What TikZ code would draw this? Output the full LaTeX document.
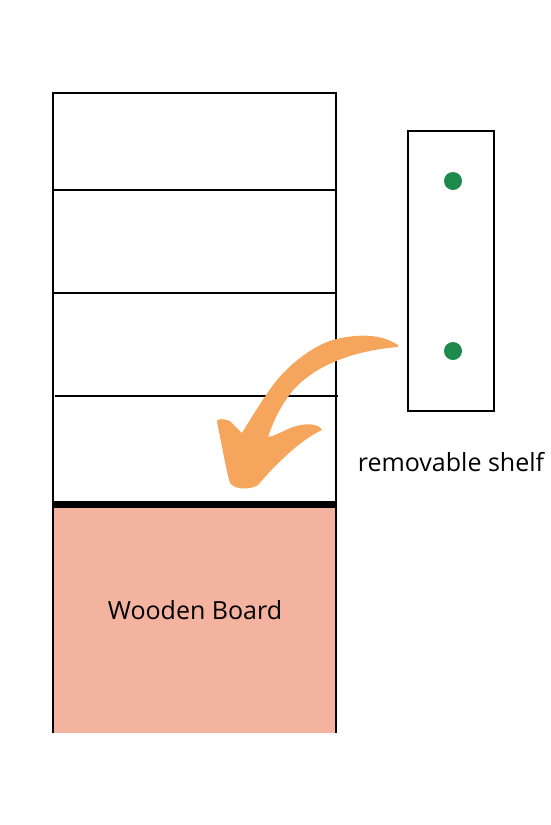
\documentclass[tikz,border=0pt]{standalone}
\usepackage{fontspec}
\setmainfont{Open Sans}
\definecolor{boardpink}{HTML}{F3B39F}
\definecolor{pingreen}{HTML}{1E8A4C}
\definecolor{arroworange}{HTML}{F5A55C}
\tikzset{
  thinline/.style={draw=black, line width=2pt},
  lbl/.style={font=\fontsize{25}{30}\selectfont, text=black, inner sep=0pt},
}
\begin{document}
\begin{tikzpicture}[x=1pt,y=-1pt]
\useasboundingbox[fill=white] (0,0) rectangle (550,825);
% wooden board
\fill[boardpink] (53,508) rectangle (336,733);
% cabinet
\draw[thinline] (53,733) -- (53,93) -- (336,93) -- (336,733);
\draw[thinline] (53,190) -- (336,190);
\draw[thinline] (53,293) -- (336,293);
\draw[thinline] (55,396) -- (338,396);
\draw[black, line width=7pt] (53,504) -- (336,504);
\node[lbl] (board) at (195,610) {Wooden Board};
% removable shelf
\draw[thinline] (408,131) rectangle (494,411);
\fill[pingreen] (453,181) circle (9);
\fill[pingreen] (453,351) circle (9);
\node[lbl] (shelf) at (451,462) {removable shelf};
% arrow
\fill[arroworange] (398,345)
  .. controls (380,333) and (355,334) .. (333,340)
  .. controls (315,345) and (292,362) .. (277,380)
  .. controls (265,395) and (250,420) .. (242,433)
  -- (230,421)
  .. controls (222,418) and (216,419) .. (217,422)
  .. controls (222,445) and (226,470) .. (230,483)
  .. controls (235,490) and (250,490) .. (258,485)
  .. controls (275,465) and (300,440) .. (322,430)
  .. controls (318,423) and (305,423) .. (293,427)
  .. controls (285,430) and (275,436) .. (268,437)
  .. controls (272,425) and (280,405) .. (295,388)
  .. controls (320,362) and (360,350) .. (398,347)
  -- cycle;
\end{tikzpicture}
\end{document}
